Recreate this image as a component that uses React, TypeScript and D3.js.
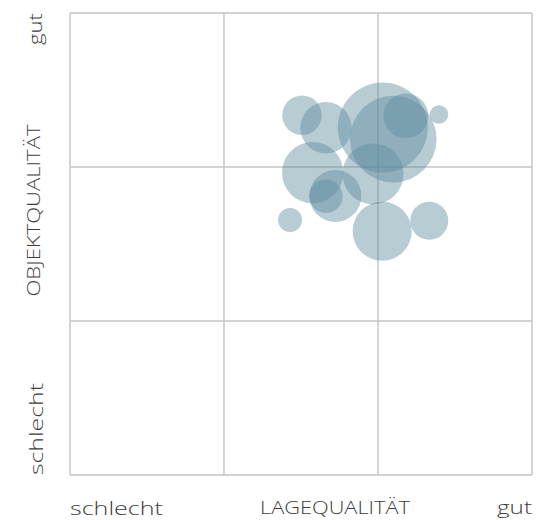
import React from "react";
import * as d3 from "d3";

// Bubble data: position on the two quality axes (0 = schlecht, 3 = gut) and size
const lageValues = [1.506, 1.662, 2.031, 2.099, 2.181, 2.396, 1.576, 1.968, 1.723, 1.662, 1.429, 2.027, 2.333];
const objektValues = [2.336, 2.255, 2.256, 2.181, 2.332, 2.341, 1.963, 1.955, 1.812, 1.81, 1.656, 1.583, 1.651];
const sizeValues = [19.2, 32.6, 100, 92.6, 24.8, 4.3, 46.5, 45.9, 33.4, 13.8, 7.1, 43, 17.8];

const gridTicks = [0, 1, 2, 3];
const xLabels = ["schlecht", "LAGEQUALITÄT", "gut"];
const yLabels = ["schlecht", "OBJEKTQUALITÄT", "gut"];

const W = 538;
const H = 520;
const left = 70;
const right = 532;
const top = 13;
const bottom = 475;

export default function App() {
  const x = d3.scaleLinear().domain([0, 3]).range([left, right]);
  const y = d3.scaleLinear().domain([0, 3]).range([bottom, top]);
  const r = d3.scaleSqrt().domain([0, 100]).range([0, 45]);

  const points = lageValues.map((v, i) => ({ x: v, y: objektValues[i], s: sizeValues[i] }));

  const font = "'Open Sans', 'Noto Sans', sans-serif";
  const textColor = "#3d3d3d";
  const gridColor = "#c4c4c4";
  const fw = 300;

  return (
    <svg
      width={W}
      height={H}
      style={{ position: "absolute", left: 0, top: 0, background: "#fff" }}
      fontFamily={font}
      fontWeight={fw}
    >
      <rect x={0} y={0} width={W} height={H} fill="#fff" />
      {gridTicks.map((t) => (
        <line
          key={"v" + t}
          x1={x(t)}
          x2={x(t)}
          y1={top}
          y2={bottom}
          stroke={gridColor}
          strokeWidth={1.4}
        />
      ))}
      {gridTicks.map((t) => (
        <line
          key={"h" + t}
          x1={left}
          x2={right}
          y1={y(t)}
          y2={y(t)}
          stroke={gridColor}
          strokeWidth={1.4}
        />
      ))}
      <g>
        {points.map((p, i) => (
          <circle
            key={i}
            cx={x(p.x)}
            cy={y(p.y)}
            r={r(p.s)}
            fill="#5d8b9d"
            fillOpacity={0.44}
          />
        ))}
      </g>
      {/* x axis labels */}
      <text x={left} y={515} fontSize={19} fill={textColor} textAnchor="start" textLength={93} lengthAdjust="spacingAndGlyphs">
        {xLabels[0]}
      </text>
      <text x={335} y={514} fontSize={19} fill={textColor} textAnchor="middle" textLength={150} lengthAdjust="spacingAndGlyphs">
        {xLabels[1]}
      </text>
      <text x={right} y={514} fontSize={19} fill={textColor} textAnchor="end" textLength={35} lengthAdjust="spacingAndGlyphs">
        {xLabels[2]}
      </text>
      {/* y axis labels */}
      <text transform={`translate(43,${bottom}) rotate(-90)`} fontSize={19} fill={textColor} textAnchor="start" textLength={92} lengthAdjust="spacingAndGlyphs">
        {yLabels[0]}
      </text>
      <text transform={`translate(40,210.5) rotate(-90)`} fontSize={19} fill={textColor} textAnchor="middle" textLength={172} lengthAdjust="spacingAndGlyphs">
        {yLabels[1]}
      </text>
      <text transform={`translate(42,${top}) rotate(-90)`} fontSize={19} fill={textColor} textAnchor="end" textLength={32} lengthAdjust="spacingAndGlyphs">
        {yLabels[2]}
      </text>
    </svg>
  );
}
